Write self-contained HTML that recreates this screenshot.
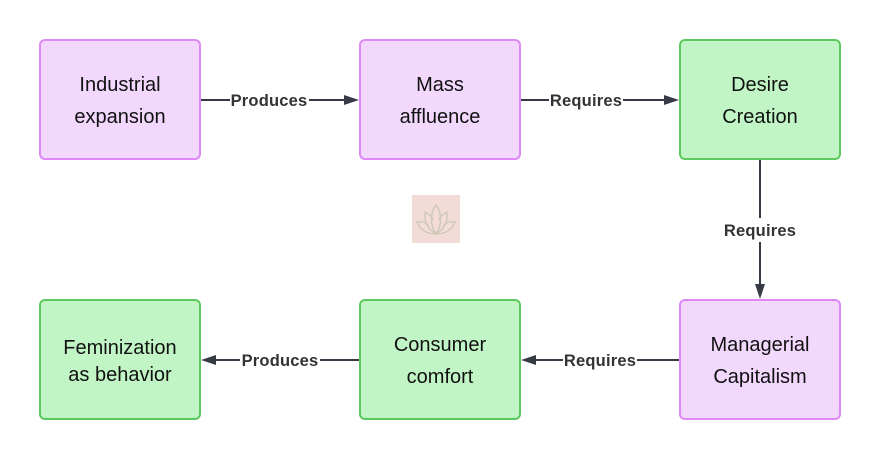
<!DOCTYPE html>
<html><head><meta charset="utf-8"><style>
html,body{margin:0;padding:0;background:#fff;width:880px;height:460px;overflow:hidden}
svg{display:block;font-family:"Liberation Sans",sans-serif}
.n{font-size:20px;fill:#111;text-anchor:middle}
.l{font-size:16.5px;font-weight:bold;fill:#333;text-anchor:middle;letter-spacing:0.2px}
.p{fill:#f2d8fd;stroke:#df88f7;stroke-width:2}
.g{fill:#c2f5c6;stroke:#5cc95e;stroke-width:2}
.e{stroke:#353a45;stroke-width:2;fill:none}
.a{fill:#353a45}
</style></head><body>
<svg width="880" height="460" viewBox="0 0 880 460">
<rect class="p" x="40" y="40" width="160" height="119" rx="5"/>
<rect class="p" x="360" y="40" width="160" height="119" rx="5"/>
<rect class="g" x="680" y="40" width="160" height="119" rx="5"/>
<rect class="g" x="40" y="300" width="160" height="119" rx="5"/>
<rect class="g" x="360" y="300" width="160" height="119" rx="5"/>
<rect class="p" x="680" y="300" width="160" height="119" rx="5"/>

<text class="n" x="120" y="91">Industrial</text><text class="n" x="120" y="123">expansion</text>
<text class="n" x="440" y="91">Mass</text><text class="n" x="440" y="123">affluence</text>
<text class="n" x="760" y="91">Desire</text><text class="n" x="760" y="123">Creation</text>
<text class="n" x="120" y="354">Feminization</text><text class="n" x="120" y="381">as behavior</text>
<text class="n" x="440" y="351">Consumer</text><text class="n" x="440" y="383">comfort</text>
<text class="n" x="760" y="351">Managerial</text><text class="n" x="760" y="383">Capitalism</text>

<line class="e" x1="201" y1="100" x2="230" y2="100"/><line class="e" x1="309" y1="100" x2="346" y2="100"/>
<polygon class="a" points="344,95 359,100 344,105"/>
<text class="l" x="269" y="106">Produces</text>
<line class="e" x1="521" y1="100" x2="549" y2="100"/><line class="e" x1="623" y1="100" x2="666" y2="100"/>
<polygon class="a" points="664,95 679,100 664,105"/>
<text class="l" x="586" y="106">Requires</text>
<line class="e" x1="760" y1="160" x2="760" y2="218"/><line class="e" x1="760" y1="242" x2="760" y2="286"/>
<polygon class="a" points="755,284 760,299 765,284"/>
<text class="l" x="760" y="236">Requires</text>
<line class="e" x1="679" y1="360" x2="637" y2="360"/><line class="e" x1="563" y1="360" x2="534" y2="360"/>
<polygon class="a" points="536,355 521,360 536,365"/>
<text class="l" x="600" y="366">Requires</text>
<line class="e" x1="359" y1="360" x2="320" y2="360"/><line class="e" x1="240" y1="360" x2="214" y2="360"/>
<polygon class="a" points="216,355 201,360 216,365"/>
<text class="l" x="280" y="366">Produces</text>

<rect x="412" y="195" width="48" height="48" fill="#f3dcd8"/>
<g fill="none" stroke="#cfc9b8" stroke-width="1.5">
<path d="M436 205 C430 212 430 226 436 234 C442 226 442 212 436 205Z"/>
<path d="M436 234 C429 230 424 223 425 212 C429 214 432 217 433 220"/>
<path d="M436 234 C443 230 448 223 447 212 C443 214 440 217 439 220"/>
<path d="M436 234 C427 234 420 230 417 222 C421 221 425 222 428 225"/>
<path d="M436 234 C445 234 452 230 455 222 C451 221 447 222 444 225"/>
</g>
</svg>
</body></html>
